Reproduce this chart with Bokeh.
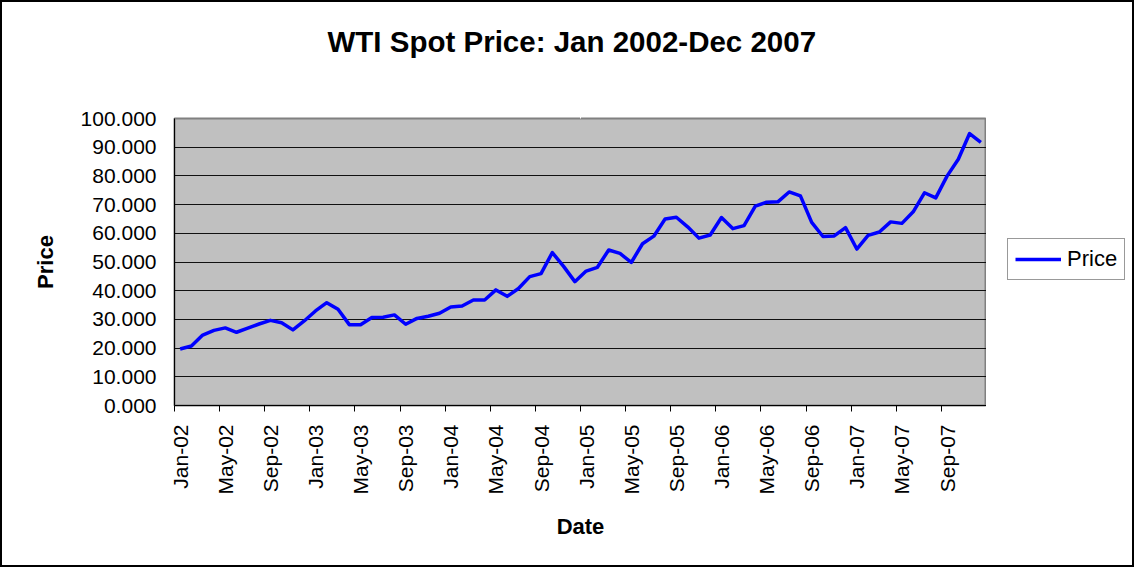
from bokeh.plotting import figure
from bokeh.layouts import row
from bokeh.models import (ColumnDataSource, FixedTicker, NumeralTickFormatter, Range1d,
                          Legend, LegendItem, Title, LinearAxis)
from bokeh.embed import file_html
from bokeh.resources import INLINE

# ---- data ----
tick_labels = ["Jan-02", "May-02", "Sep-02", "Jan-03", "May-03", "Sep-03",
               "Jan-04", "May-04", "Sep-04", "Jan-05", "May-05", "Sep-05",
               "Jan-06", "May-06", "Sep-06", "Jan-07", "May-07", "Sep-07"]
months_per_label = 4
price = [19.71, 20.72, 24.53, 26.18, 27.04, 25.52, 26.97, 28.39, 29.66, 28.84, 26.35, 29.46,
         32.95, 35.83, 33.51, 28.17, 28.11, 30.66, 30.76, 31.57, 28.31, 30.34, 31.11, 32.13,
         34.31, 34.69, 36.74, 36.75, 40.28, 38.03, 40.78, 44.90, 45.94, 53.28, 48.47, 43.15,
         46.84, 48.15, 54.19, 52.98, 49.83, 56.35, 59.00, 64.99, 65.59, 62.26, 58.32, 59.41,
         65.49, 61.63, 62.69, 69.44, 70.84, 70.95, 74.41, 73.04, 63.80, 58.89, 59.08, 61.96,
         54.51, 59.28, 60.44, 63.98, 63.46, 67.49, 74.12, 72.36, 79.92, 85.80, 94.77, 91.69]
y_ticks = [0, 10, 20, 30, 40, 50, 60, 70, 80, 90, 100]
series_name = "Price"

n = len(price)
xs = [i + 0.5 for i in range(n)]  # categories sit between tick marks
src = ColumnDataSource(dict(x=xs, y=price))

FONT = "Liberation Sans"
LINE = dict(line_color="#0000FF", line_width=3.5, line_join="round")

p = figure(frame_width=812, frame_height=287, output_backend="svg", toolbar_location=None,
           x_range=Range1d(0, n), y_range=Range1d(0, 100),
           min_border_left=172, min_border_right=0, min_border_top=116, min_border_bottom=160)
p.background_fill_color = "#C0C0C0"
p.border_fill_color = "white"
p.outline_line_color = "#808080"
p.outline_line_width = 2
p.title = None

r = p.line("x", "y", source=src, **LINE)

# X axis: labels centred on categories, tick marks on category boundaries
label_pos = [i * months_per_label + 0.5 for i in range(len(tick_labels))]
bounds = [i * months_per_label for i in range(len(tick_labels) + 1)]
p.xaxis.ticker = FixedTicker(ticks=label_pos, minor_ticks=bounds)
p.xaxis.major_label_overrides = {pos: lab for pos, lab in zip(label_pos, tick_labels)}
p.xaxis.major_label_orientation = 3.14159265 / 2
p.xaxis.major_tick_out = 0
p.xaxis.major_tick_in = 0
p.xaxis.minor_tick_line_color = "black"
p.xaxis.minor_tick_out = 6
p.xaxis.minor_tick_in = 0
p.xaxis.major_label_standoff = 13
p.xaxis.axis_label = "Date"
p.xaxis.axis_label_standoff = 16
p.xgrid.grid_line_color = None

p.yaxis.ticker = FixedTicker(ticks=y_ticks, minor_ticks=[])
p.yaxis.formatter = NumeralTickFormatter(format="0.000")
p.yaxis.major_tick_out = 8
p.yaxis.major_tick_in = 0
p.yaxis.major_label_standoff = 10
p.yaxis.axis_label = "Price"
p.yaxis.axis_label_standoff = 20
p.ygrid.ticker = FixedTicker(ticks=y_ticks)
p.ygrid.grid_line_color = "#111111"
p.ygrid.grid_line_width = 1

for ax in (p.xaxis, p.yaxis):
    ax.axis_line_color = "black"
    ax.axis_line_width = 1
    ax.major_tick_line_color = "black" if ax is p.yaxis else None
    ax.major_label_text_font = FONT
    ax.major_label_text_font_size = "21px"
    ax.major_label_text_color = "black"
    ax.axis_label_text_font = FONT
    ax.axis_label_text_font_size = "22px"
    ax.axis_label_text_font_style = "bold"
    ax.axis_label_text_color = "black"

# invisible spacer between frame and title: one white tick on white, no label
mid = n / 2
spacer = LinearAxis(ticker=FixedTicker(ticks=[mid], minor_ticks=[]), axis_line_color=None,
                    major_tick_line_color="white", minor_tick_line_color=None,
                    major_tick_out=61, major_tick_in=0, minor_tick_out=0, minor_tick_in=0,
                    major_label_standoff=0, major_label_overrides={mid: ""},
                    major_label_text_font_size="1px", major_label_text_color="white")
p.add_layout(spacer, "above")
p.add_layout(Title(text="WTI Spot Price: Jan 2002-Dec 2007", align="left", offset=153,
                   standoff=0, text_font=FONT, text_font_size="29.5px",
                   text_font_style="bold", text_color="black"), "above")

# legend strip at the right (its frame is aligned with the main plot's frame)
lg = figure(width=146, height=563, output_backend="svg", toolbar_location=None,
            x_range=Range1d(0, 1), y_range=Range1d(0, 1),
            x_axis_location=None, y_axis_location=None,
            min_border_left=0, min_border_right=0, min_border_top=0, min_border_bottom=0)
lg.grid.grid_line_color = None
lg.outline_line_color = None
lg.background_fill_color = "white"
lg.border_fill_color = "white"
# swatch renderer for the legend; its data lie outside this strip's ranges
swatch = lg.line("x", "y", source=src, **LINE)
legend = Legend(items=[LegendItem(label=series_name, renderers=[swatch])], location=(21, 125),
                border_line_color="#333333", border_line_width=1,
                background_fill_color="white", background_fill_alpha=1,
                label_text_font=FONT, label_text_font_size="22px", label_text_color="black",
                glyph_width=46, glyph_height=22, label_height=22, label_standoff=6,
                padding=7, margin=0, spacing=0)
lg.add_layout(legend)

layout = row(p, lg)
layout.styles = {"border": "2px solid black"}

open("out.html", "w").write(file_html(layout, INLINE))
